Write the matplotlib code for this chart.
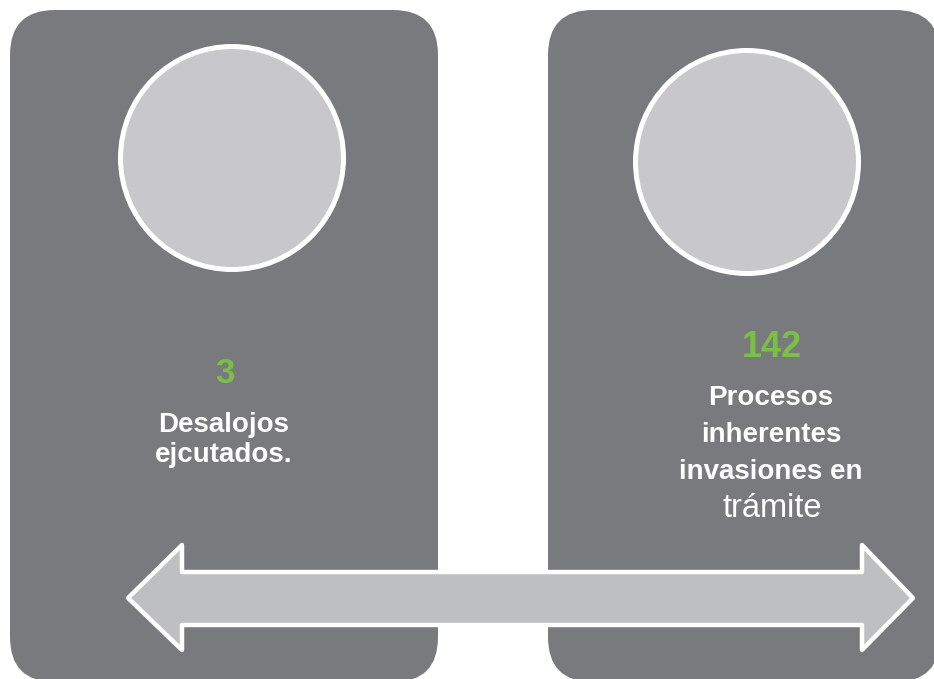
import matplotlib
matplotlib.use("Agg")
import matplotlib.pyplot as plt
from matplotlib.patches import FancyBboxPatch, Circle, Polygon

# Data
values = ["3", "142"]
labels_left = ["Desalojos", "ejcutados."]
labels_right = ["Procesos", "inherentes", "invasiones en"]
label_right_last = "trámite"

BOX = "#797a7e"
CIRCLE = "#c8c8ca"
ARROW = "#bebfc1"
GREEN = "#7ac143"

fig = plt.figure(figsize=(9.34, 6.79), dpi=100)
ax = fig.add_axes([0, 0, 1, 1])
ax.set_xlim(0, 934)
ax.set_ylim(679, 0)
ax.axis("off")

# Boxes
for x0, x1 in [(10, 438), (548, 940)]:
    ax.add_patch(FancyBboxPatch((x0, 10), x1 - x0, 672,
                                boxstyle="round,pad=0,rounding_size=45",
                                facecolor=BOX, edgecolor="none"))

# Circles
for cx, cy in [(232, 158), (747, 162)]:
    ax.add_patch(Circle((cx, cy), 111.5, facecolor=CIRCLE,
                        edgecolor="white", linewidth=3.6))

# Double arrow
pts = [(128, 598), (182, 545), (182, 572), (862, 572), (862, 545),
       (913, 598), (862, 650), (862, 625), (182, 625), (182, 650)]
ax.add_patch(Polygon(pts, closed=True, facecolor=ARROW, edgecolor="white",
                     linewidth=3.2, joinstyle="round"))

font = "Liberation Sans"

# Left text
ax.text(225, 383, values[0], color=GREEN, fontsize=25, fontweight="bold",
        family=font, ha="center", va="baseline")
for i, t in enumerate(labels_left):
    ax.text(224, 432 + 30 * i, t, color="white", fontsize=20, fontweight="bold",
            family=font, ha="center", va="baseline")

# Right text
ax.text(772, 357, values[1], color=GREEN, fontsize=26, fontweight="bold",
        family=font, ha="center", va="baseline")
for i, t in enumerate(labels_right):
    ax.text(771, 405 + 37 * i, t, color="white", fontsize=20, fontweight="bold",
            family=font, ha="center", va="baseline")
ax.text(772, 517, label_right_last, color="white", fontsize=23.5,
        family=font, ha="center", va="baseline")

fig.savefig("out.png", dpi=100)
